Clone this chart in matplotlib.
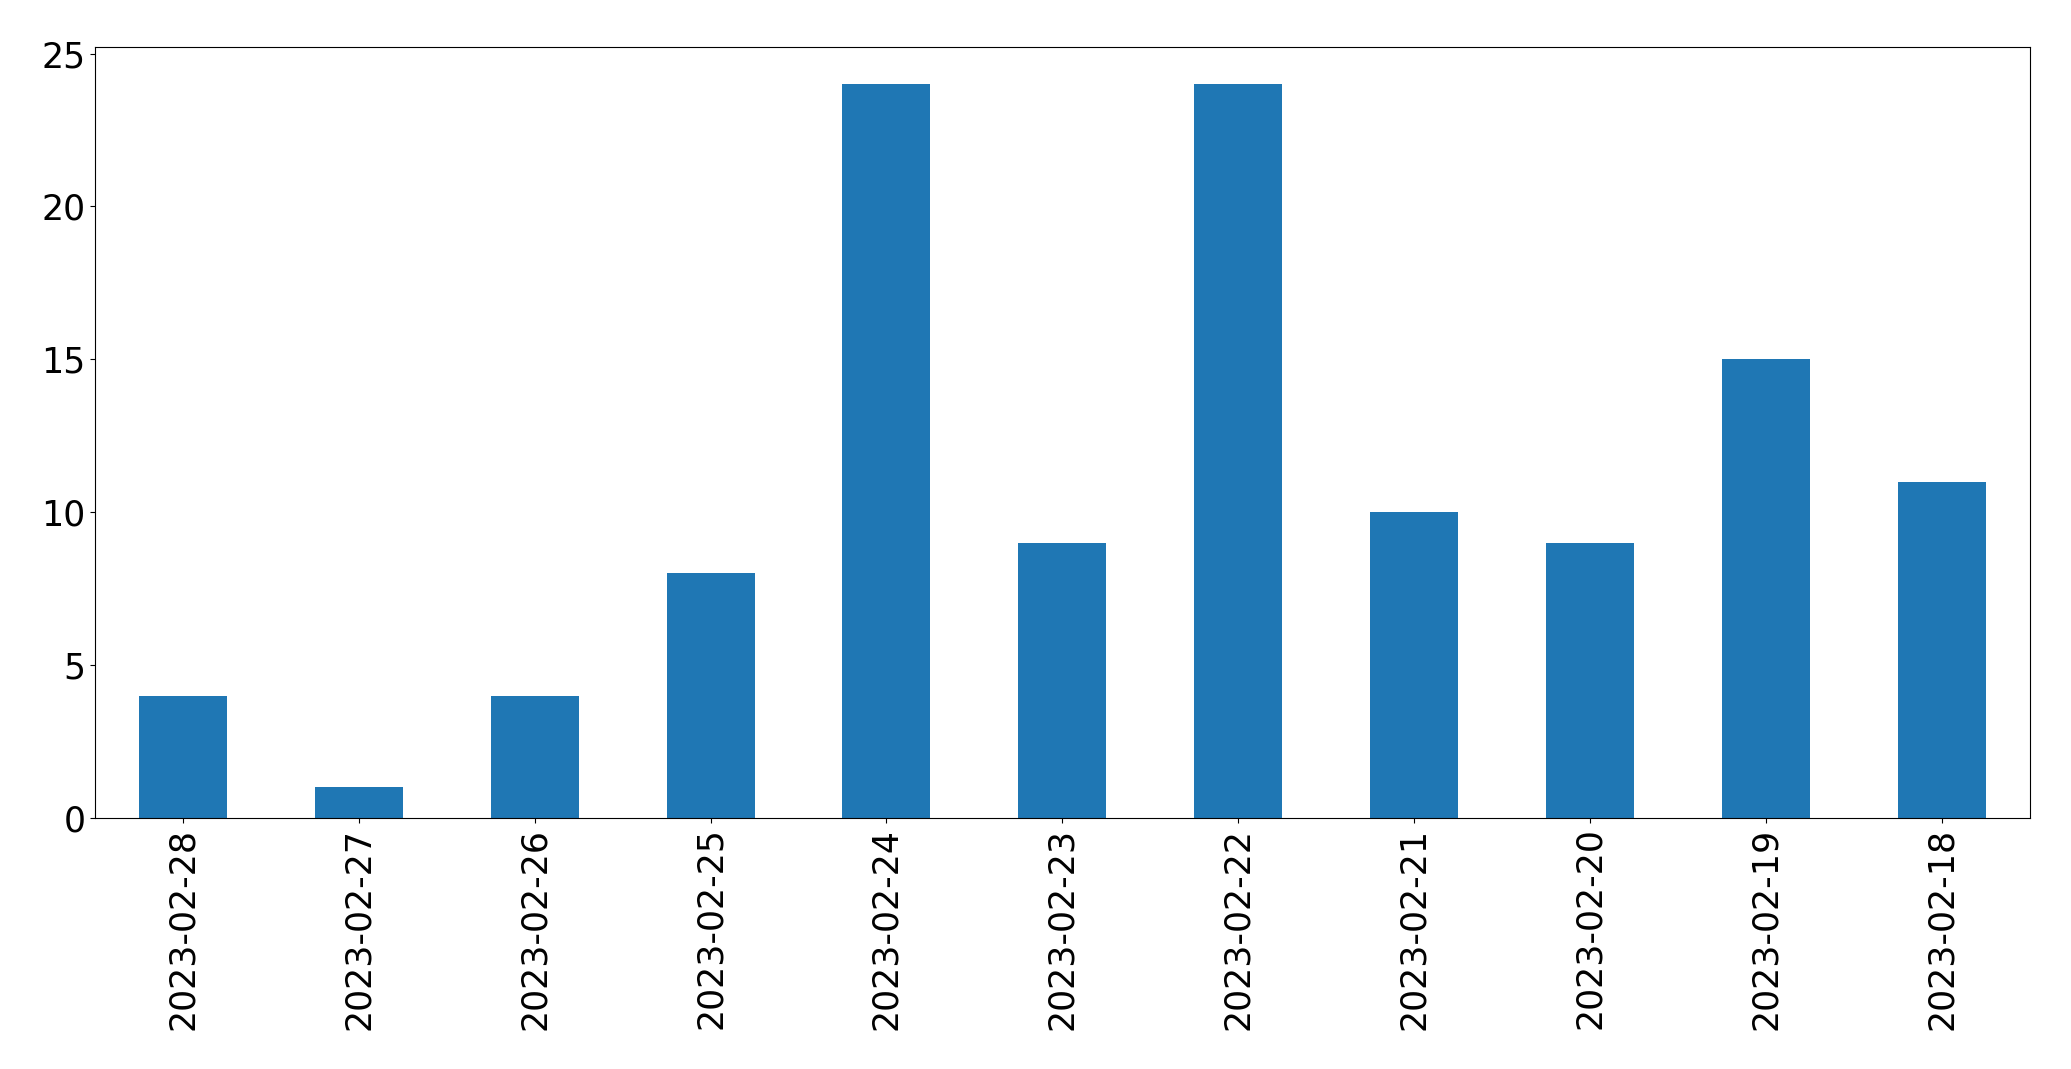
import matplotlib
matplotlib.use("Agg")
import matplotlib.pyplot as plt
import numpy as np

dates = ["2023-02-28", "2023-02-27", "2023-02-26", "2023-02-25", "2023-02-24",
         "2023-02-23", "2023-02-22", "2023-02-21", "2023-02-20", "2023-02-19",
         "2023-02-18"]
counts = [4, 1, 4, 8, 24, 9, 24, 10, 9, 15, 11]

fig = plt.figure(figsize=(20.71, 10.69), dpi=100)
ax = fig.add_axes([0.0459, 0.235, 0.9341, 0.7206])
x = np.arange(len(dates))
ax.bar(x, counts, width=0.5, color="#1f77b4")
ax.set_xlim(-0.5, len(dates) - 0.5)
ax.set_ylim(0, 25.2)
ax.set_xticks(x)
ax.set_xticklabels(dates, rotation=90, fontsize=25)
ax.tick_params(axis="y", labelsize=25)
fig.savefig("out.png", dpi=100)
